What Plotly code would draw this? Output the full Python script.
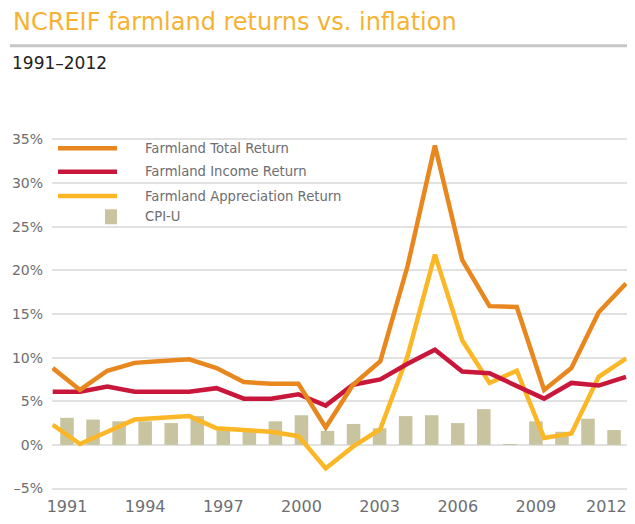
import plotly.graph_objects as go

# ---------------- data ----------------
years = list(range(1991, 2013))
total_return = [8.8, 6.3, 8.5, 9.4, 9.6, 9.8, 8.8, 7.2, 7.0, 7.0, 2.0, 6.9, 9.6,
                20.5, 34.3, 21.2, 15.9, 15.8, 6.3, 8.8, 15.2, 18.5]
income_return = [6.1, 6.1, 6.7, 6.1, 6.1, 6.1, 6.5, 5.3, 5.3, 5.8, 4.5, 6.9, 7.5,
                 9.3, 10.9, 8.4, 8.2, 6.7, 5.3, 7.1, 6.8, 7.8]
appreciation_return = [2.3, 0.1, 1.5, 2.9, 3.1, 3.3, 1.9, 1.7, 1.5, 1.0, -2.7, -0.2, 1.8,
                       10.2, 21.8, 12.0, 7.1, 8.5, 0.8, 1.3, 7.8, 9.9]
cpi_u = [3.1, 2.9, 2.7, 2.7, 2.5, 3.3, 1.7, 1.6, 2.7, 3.4, 1.6, 2.4, 1.9,
         3.3, 3.4, 2.5, 4.1, 0.1, 2.7, 1.5, 3.0, 1.7]

x_tick_years = [1991, 1994, 1997, 2000, 2003, 2006, 2009, 2012]
x_tick_labels = ["1991", "1994", "1997", "2000", "2003", "2006", "2009",
                 "2012\u00a0\u00a0\u00a0"]
y_ticks = [-5, 0, 5, 10, 15, 20, 25, 30, 35]
y_tick_labels = ["\u20135%", "0%", "5%", "10%", "15%", "20%", "25%", "30%", "35%"]

series_names = ["Farmland Total Return", "Farmland Income Return",
                "Farmland Appreciation Return", "CPI-U"]

# ---------------- style / layout geometry (page pixels) ----------------
OFF = 8                      # default page body margin
W, H = 635 - 2 * OFF, 524 - 2 * OFF
PLOT_L, PLOT_R = 52, 627     # page px
PLOT_T, PLOT_B = 135.5, 492.5
ML, MR = PLOT_L - OFF, (W + OFF) - PLOT_R
MT, MB = PLOT_T - OFF, (H + OFF) - PLOT_B
PW = W - ML - MR
PH = H - MT - MB

# bar axis: first bar centre at 67 px, 26.05 px per year
BAR_X0, BAR_STEP = 67.0, 26.05
bar_range = [years[0] - (BAR_X0 - PLOT_L) / BAR_STEP,
             years[0] + (PLOT_R - BAR_X0) / BAR_STEP]
# line axis: first point at 52.7 px, 27.3 px per year
LINE_X0, LINE_STEP = 52.7, 27.3
line_range = [years[0] - (LINE_X0 - PLOT_L) / LINE_STEP,
              years[0] + (PLOT_R - LINE_X0) / LINE_STEP]

C_TOTAL = "#E8871E"
C_INCOME = "#C8173A"
C_APPR = "#FBB726"
C_CPI = "#C8C4A0"
C_TITLE = "#F6B333"
C_TEXT = "#6D6E71"
FONT = "DejaVu Sans"


def px(xp):
    return (xp - PLOT_L) / PW


def py(yp):
    return (PLOT_B - yp) / PH


fig = go.Figure()

fig.add_trace(go.Bar(
    x=years, y=cpi_u, name=series_names[3], marker_color=C_CPI,
    marker_line_width=0, width=0.52, xaxis="x", yaxis="y", showlegend=False))

for vals, color, name in [(appreciation_return, C_APPR, series_names[2]),
                          (income_return, C_INCOME, series_names[1]),
                          (total_return, C_TOTAL, series_names[0])]:
    fig.add_trace(go.Scatter(
        x=years, y=vals, name=name, mode="lines",
        line=dict(color=color, width=4.5), xaxis="x2", yaxis="y",
        showlegend=False))

shapes = [
    dict(type="line", xref="paper", yref="paper", x0=px(10), x1=px(640),
         y0=py(45), y1=py(45), line=dict(color="#C6C6C6", width=3)),
]
annotations = [
    dict(text="NCREIF farmland returns vs. inflation", xref="paper", yref="paper",
         x=px(11), y=py(21), xanchor="left", yanchor="middle", showarrow=False,
         font=dict(family=FONT, size=24, color=C_TITLE)),
    dict(text="1991\u20132012", xref="paper", yref="paper",
         x=px(10), y=py(62.5), xanchor="left", yanchor="middle", showarrow=False,
         font=dict(family=FONT, size=17, color="#231F20")),
]

legend_rows = [(147.7, C_TOTAL, series_names[0]),
               (171.3, C_INCOME, series_names[1]),
               (195.7, C_APPR, series_names[2])]
for yy, color, name in legend_rows:
    shapes.append(dict(type="line", xref="paper", yref="paper", x0=px(58), x1=px(117),
                       y0=py(yy), y1=py(yy), line=dict(color=color, width=4.5)))
    annotations.append(dict(text=name, xref="paper", yref="paper", x=px(142.5), y=py(yy),
                            xanchor="left", yanchor="middle", showarrow=False,
                            font=dict(family=FONT, size=13.2, color=C_TEXT)))
shapes.append(dict(type="rect", xref="paper", yref="paper", x0=px(105), x1=px(117),
                   y0=py(224), y1=py(209), fillcolor=C_CPI, line=dict(width=0)))
annotations.append(dict(text=series_names[3], xref="paper", yref="paper", x=px(142.5),
                        y=py(216.7), xanchor="left", yanchor="middle", showarrow=False,
                        font=dict(family=FONT, size=13.2, color=C_TEXT)))

fig.update_layout(
    width=W, height=H,
    margin=dict(l=ML, r=MR, t=MT, b=MB, pad=0, autoexpand=False),
    paper_bgcolor="white", plot_bgcolor="white",
    showlegend=False,
    xaxis=dict(range=bar_range, tickmode="array", tickvals=x_tick_years,
               ticktext=x_tick_labels, showgrid=False, zeroline=False,
               showline=False, ticks="", ticklabelstandoff=3, automargin=False,
               ticklabeloverflow="allow",
               tickfont=dict(family=FONT, size=16, color=C_TEXT)),
    xaxis2=dict(range=line_range, overlaying="x", visible=False),
    yaxis=dict(range=[-5.4, 35.4], tickmode="array", tickvals=y_ticks,
               ticktext=y_tick_labels, showgrid=True, gridcolor="#E1E1E1", gridwidth=2,
               zeroline=False, showline=False, ticks="", ticklabelstandoff=8,
               automargin=False,
               tickfont=dict(family=FONT, size=14, color=C_TEXT)),
    shapes=shapes,
    annotations=annotations,
)

fig.write_html("out.html")
